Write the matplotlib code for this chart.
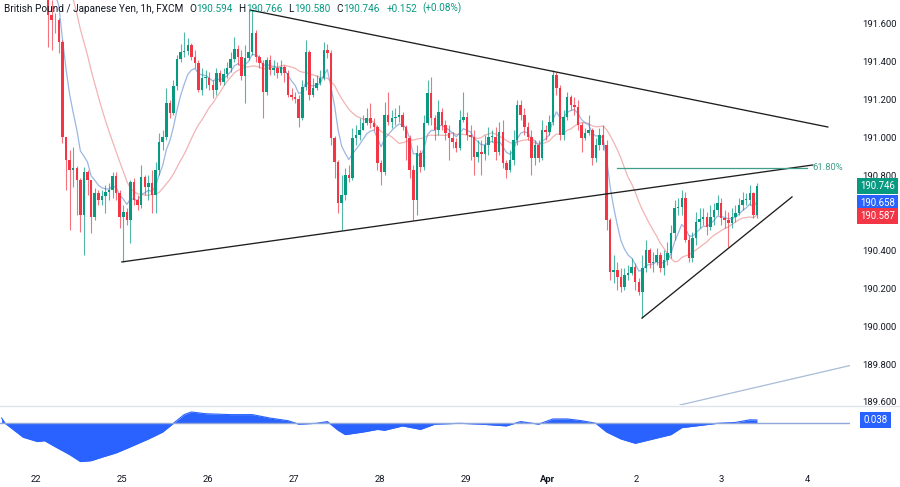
import numpy as np
import pandas as pd
import matplotlib
matplotlib.use("Agg")
import matplotlib.pyplot as plt
import matplotlib.transforms as mtransforms

plt.rcParams['font.family'] = ['Roboto', 'DejaVu Sans']

# ---------------- data ----------------
first_open = 192.32
close = [192.30, 192.25, 192.28, 192.20, 192.15, 192.18, 192.10, 192.05, 192.00, 191.95,
         191.90, 191.86, 191.80, 191.653, 191.626, 191.624, 191.510, 191.007, 190.886, 190.833,
         190.843, 190.780, 190.594, 190.822, 190.780, 190.584, 190.711, 190.674, 190.695, 190.716,
         190.727, 190.801, 190.711, 190.584, 190.610, 190.568, 190.769, 190.674, 190.647, 190.796,
         190.743, 190.764, 190.700, 190.833, 190.981, 191.007, 191.187, 191.134, 191.277, 191.420,
         191.457, 191.462, 191.494, 191.430, 191.399, 191.256, 191.319, 191.319, 191.282, 191.256,
         191.346, 191.298, 191.341, 191.372, 191.420, 191.473, 191.430, 191.330, 191.425, 191.457,
         191.557, 191.430, 191.399, 191.245, 191.415, 191.362, 191.372, 191.346, 191.378, 191.346,
         191.229, 191.219, 191.208, 191.108, 191.272, 191.457, 191.229, 191.266, 191.293, 191.319,
         191.467, 191.452, 191.002, 190.875, 190.658, 190.700, 190.806, 190.790, 191.002, 191.018,
         191.044, 191.081, 191.108, 191.081, 191.060, 190.870, 190.822, 191.124, 191.086, 191.108,
         191.113, 191.124, 191.060, 191.002, 190.833, 190.674, 190.923, 190.848, 191.081, 191.240,
         191.108, 191.044, 191.139, 191.071, 191.028, 191.002, 190.981, 190.949, 191.097, 191.113,
         191.018, 191.007, 190.901, 190.928, 190.917, 190.965, 191.007, 191.007, 190.928, 191.034,
         190.870, 190.833, 190.885, 190.991, 191.176, 191.124, 191.060, 191.007, 190.896, 190.965,
         190.896, 191.044, 191.034, 191.086, 191.335, 191.266, 191.018, 191.113, 191.219, 191.176,
         191.166, 191.071, 191.002, 191.028, 191.044, 190.896, 190.965, 191.018, 190.965, 190.568,
         190.293, 190.303, 190.266, 190.214, 190.277, 190.288, 190.319, 190.240, 190.187, 190.314,
         190.409, 190.340, 190.346, 190.383, 190.314, 190.356, 190.393, 190.499, 190.631, 190.637,
         190.684, 190.462, 190.367, 190.473, 190.557, 190.573, 190.584, 190.531, 190.584, 190.621,
         190.658, 190.579, 190.568, 190.552, 190.584, 190.605, 190.647, 190.674, 190.674, 190.711,
         190.594, 190.746]
high = [192.36, 192.33, 192.31, 192.30, 192.22, 192.21, 192.19, 192.12, 192.08, 192.03,
        191.98, 191.93, 191.89, 191.82, 191.732, 191.663, 191.637, 191.520, 191.007, 190.938,
        190.954, 190.854, 190.790, 190.848, 190.833, 190.780, 190.737, 190.727, 190.727, 190.753,
        190.764, 190.822, 190.822, 190.727, 190.647, 190.631, 190.780, 190.790, 190.700, 190.859,
        190.806, 190.806, 190.833, 190.875, 191.028, 191.044, 191.266, 191.203, 191.309, 191.441,
        191.499, 191.563, 191.531, 191.504, 191.467, 191.415, 191.372, 191.362, 191.351, 191.309,
        191.372, 191.362, 191.372, 191.404, 191.457, 191.536, 191.494, 191.467, 191.494, 191.679,
        191.679, 191.573, 191.441, 191.415, 191.430, 191.441, 191.415, 191.404, 191.415, 191.388,
        191.362, 191.266, 191.245, 191.229, 191.309, 191.520, 191.467, 191.319, 191.335, 191.362,
        191.510, 191.499, 191.467, 191.010, 190.885, 190.806, 190.843, 190.859, 191.055, 191.071,
        191.108, 191.124, 191.161, 191.187, 191.108, 191.071, 190.885, 191.192, 191.245, 191.150,
        191.161, 191.176, 191.139, 191.071, 191.018, 190.859, 190.965, 190.938, 191.124, 191.309,
        191.325, 191.124, 191.203, 191.161, 191.097, 191.071, 191.034, 191.002, 191.150, 191.245,
        191.139, 191.071, 191.044, 190.991, 190.991, 191.018, 191.060, 191.044, 191.060, 191.086,
        191.097, 190.885, 190.938, 191.044, 191.203, 191.203, 191.161, 191.086, 191.044, 190.991,
        190.991, 191.097, 191.071, 191.124, 191.362, 191.351, 191.282, 191.150, 191.245, 191.229,
        191.219, 191.203, 191.086, 191.055, 191.124, 191.055, 191.002, 191.055, 191.071, 190.991,
        190.579, 190.383, 190.346, 190.314, 190.314, 190.330, 190.367, 190.340, 190.261, 190.383,
        190.462, 190.420, 190.399, 190.420, 190.399, 190.409, 190.452, 190.542, 190.674, 190.684,
        190.727, 190.716, 190.489, 190.504, 190.610, 190.631, 190.631, 190.610, 190.647, 190.658,
        190.700, 190.684, 190.621, 190.610, 190.631, 190.647, 190.684, 190.716, 190.711, 190.753,
        190.716, 190.766]
low = [192.24, 192.20, 192.22, 192.16, 192.10, 192.12, 192.06, 192.00, 191.96, 191.91,
       191.86, 191.82, 191.77, 191.483, 191.467, 191.557, 191.452, 190.975, 190.727, 190.515,
       190.743, 190.594, 190.504, 190.383, 190.700, 190.499, 190.568, 190.647, 190.647, 190.605,
       190.674, 190.684, 190.674, 190.526, 190.346, 190.542, 190.446, 190.647, 190.621, 190.631,
       190.700, 190.674, 190.605, 190.605, 190.806, 190.938, 190.991, 191.108, 191.124, 191.256,
       191.404, 191.430, 191.441, 191.415, 191.372, 191.245, 191.229, 191.266, 191.256, 191.213,
       191.229, 191.282, 191.282, 191.319, 191.351, 191.404, 191.388, 191.309, 191.187, 191.415,
       191.441, 191.404, 191.372, 191.108, 191.229, 191.335, 191.335, 191.319, 191.335, 191.298,
       191.219, 191.203, 191.187, 191.060, 191.097, 191.256, 191.203, 191.219, 191.256, 191.282,
       191.309, 191.425, 190.965, 190.790, 190.605, 190.515, 190.674, 190.769, 190.780, 190.965,
       190.991, 191.044, 191.071, 191.055, 191.044, 190.833, 190.753, 190.806, 191.071, 191.055,
       191.071, 191.086, 191.044, 190.885, 190.790, 190.568, 190.594, 190.822, 190.833, 191.071,
       191.071, 190.991, 191.018, 191.044, 190.991, 190.885, 190.949, 190.928, 190.938, 191.086,
       190.991, 190.885, 190.806, 190.875, 190.806, 190.885, 190.912, 190.981, 190.885, 190.912,
       190.843, 190.790, 190.822, 190.859, 190.965, 191.097, 191.018, 190.991, 190.806, 190.859,
       190.875, 190.885, 190.991, 191.018, 191.071, 191.229, 190.991, 190.991, 191.097, 191.150,
       191.124, 191.044, 190.928, 190.991, 191.018, 190.859, 190.875, 190.938, 190.938, 190.515,
       190.251, 190.235, 190.198, 190.187, 190.198, 190.251, 190.277, 190.198, 190.171, 190.049,
       190.293, 190.314, 190.293, 190.330, 190.293, 190.277, 190.330, 190.367, 190.462, 190.594,
       190.594, 190.452, 190.346, 190.346, 190.436, 190.526, 190.542, 190.489, 190.515, 190.542,
       190.594, 190.542, 190.526, 190.425, 190.526, 190.557, 190.594, 190.621, 190.647, 190.647,
       190.579, 190.580]

osc_idx = [0, 1, 6, 10, 12, 15, 19, 22, 25, 28, 32, 36, 41, 45, 48, 51, 53, 57, 64, 70,
           75, 80, 83, 88, 91, 94, 96, 101, 105, 107, 112, 117, 121, 128, 134, 141, 145, 150,
           154, 158, 162, 166, 169, 173, 177, 182, 187, 190, 194, 200, 205, 209, 211]
osc_val = [0.06, 0.0, -0.16, -0.21, -0.20, -0.27, -0.36, -0.44, -0.43, -0.39, -0.34, -0.27,
           -0.18, -0.10, 0.0, 0.10, 0.13, 0.11, 0.10, 0.10, 0.06, 0.03, -0.01, 0.0, 0.02,
           -0.08, -0.13, -0.10, -0.07, -0.08, -0.03, -0.07, -0.01, 0.0, -0.01, -0.03, 0.02,
           -0.01, 0.05, 0.05, 0.03, 0.0, -0.10, -0.18, -0.23, -0.18, -0.13, -0.05, -0.03,
           0.0, 0.01, 0.04, 0.038]

day_labels = ['22', '25', '26', '27', '28', '29', 'Apr', '2', '3', '4']
day_pos = [9.6, 33.6, 57.7, 81.7, 105.7, 129.7, 152.6, 177.2, 201.0, 225.0]

price_ticks = [191.6, 191.4, 191.2, 191.0, 190.8, 190.4, 190.2, 190.0, 189.8, 189.6]

upper_line_x, upper_line_y = [69.4, 230.8], [191.679, 191.060]
lower_line_x, lower_line_y = [33.6, 226.6], [190.346, 190.859]
rising_line_x, rising_line_y = [178.9, 220.8], [190.049, 190.690]
fib_x, fib_y = [171.9, 225.0], [190.845, 190.845]
faint_line_x, faint_line_y = [189.5, 237.5], [189.589, 189.800]

title = "British Pound / Japanese Yen, 1h, FXCM"
last_ohlc = [190.594, 190.766, 190.580, 190.746]
change_abs, change_pct = 0.152, 0.08
ma_fast_last, ma_slow_last = 190.658, 190.587
osc_last = 0.038

# ---------------- styling ----------------
GREEN = '#089981'
RED = '#F23645'
BLUE = '#2962FF'
TXT = '#131722'

W, H = 900, 487
fig = plt.figure(figsize=(9, 4.87), dpi=100)
fig.patch.set_facecolor('white')

ax = fig.add_axes([0, 1 - 405 / H, 850 / W, 405 / H])
ax2 = fig.add_axes([0, 1 - 466 / H, 850 / W, 60 / H])
for a in (ax, ax2):
    a.set_facecolor('white')
    for s in a.spines.values():
        s.set_visible(False)
    a.set_xticks([])
    a.set_yticks([])

xlim = (-0.45, 237.0)
ax.set_xlim(*xlim)
ax.set_ylim(189.589, 191.732)
ax2.set_xlim(*xlim)
ax2.set_ylim(-0.491, 0.199)

# candles
c = np.array(close)
hh = np.array(high)
ll = np.array(low)
o = np.r_[first_open, c[:-1]]
hh = np.maximum(hh, np.maximum(o, c))
ll = np.minimum(ll, np.minimum(o, c))
idx = np.arange(len(c))
up = c >= o
cols = np.where(up, GREEN, RED)
ax.vlines(idx, ll, hh, colors=cols, lw=0.8, alpha=0.7, zorder=3)
ax.bar(idx, np.maximum(np.abs(c - o), 0.004), bottom=np.minimum(o, c), width=0.7,
       color=cols, lw=0, zorder=4)

# moving averages
s = pd.Series(c)
fast = s.ewm(span=7, adjust=False).mean()
slow = s.rolling(20, min_periods=1).mean()
ax.plot(idx, slow, color='#ee9a9a', lw=0.9, alpha=0.75, zorder=2)
ax.plot(idx, fast, color='#7a9fd8', lw=0.9, alpha=0.75, zorder=2)

# drawings
for xs, ys in [(upper_line_x, upper_line_y), (lower_line_x, lower_line_y),
               (rising_line_x, rising_line_y)]:
    ax.plot(xs, ys, color='#1e1e1e', lw=0.95, zorder=5)
ax.plot(fib_x, fib_y, color='#3f9e8a', lw=0.9, zorder=5)
ax.text(fib_x[1] + 1.6, fib_y[0], "61.80%", color='#3f9e8a', fontsize=6.8,
        va='center', ha='left', zorder=6)
ax.plot(faint_line_x, faint_line_y, color='#a8bcd8', lw=0.9, zorder=1)

# oscillator
ax2.fill_between(osc_idx, osc_val, 0, color=BLUE, lw=0, zorder=2)
ax2.plot(osc_idx, osc_val, color=BLUE, lw=0.8, zorder=2)
ax2.axhline(0, color='#8ea6d8', lw=1.0, zorder=3)

# pane separator
fig.add_artist(plt.Line2D([0, 1], [1 - 406 / H, 1 - 406 / H], color='#e0e3eb', lw=1,
                          transform=fig.transFigure))

# price scale labels
tr = mtransforms.blended_transform_factory(fig.transFigure, ax.transData)
for p in price_ticks:
    ax.text(862 / W, p, f"{p:.3f}", transform=tr, fontsize=6.8, color=TXT,
            va='center', ha='left', clip_on=False)
for val, fc in [(last_ohlc[3], GREEN), (ma_fast_last, BLUE), (ma_slow_last, RED)]:
    ax.text(877.5 / W, val, f"{val:.3f}", transform=tr, fontsize=6.9, color='white',
            va='center', ha='center', clip_on=False, zorder=10,
            bbox=dict(boxstyle='square,pad=0.32', fc=fc, ec='none'))
tr2 = mtransforms.blended_transform_factory(fig.transFigure, ax2.transData)
ax2.text(875.5 / W, osc_last, f"{osc_last:.3f}", transform=tr2, fontsize=6.9,
         color='white', va='center', ha='center', clip_on=False, zorder=10,
         bbox=dict(boxstyle='square,pad=0.32', fc=BLUE, ec='none'))

# date labels
trd = mtransforms.blended_transform_factory(ax2.transData, fig.transFigure)
for pos, lab in zip(day_pos, day_labels):
    ax2.text(pos, 1 - 479 / H, lab, transform=trd, fontsize=6.8, color=TXT,
             ha='center', va='center', clip_on=False,
             fontweight='bold' if lab == 'Apr' else 'normal')

# title + OHLC legend
t = fig.text(4 / W, 1 - 9 / H, title, fontsize=7.2, color=TXT, va='center', ha='left',
             zorder=20)
pieces = [("O", TXT, 4), (f"{last_ohlc[0]:.3f}", GREEN, 0.5),
          ("H", TXT, 4), (f"{last_ohlc[1]:.3f}", GREEN, 0.5),
          ("L", TXT, 4), (f"{last_ohlc[2]:.3f}", GREEN, 0.5),
          ("C", TXT, 4), (f"{last_ohlc[3]:.3f}", GREEN, 0.5),
          (f"+{change_abs:.3f}", GREEN, 4.5), (f"(+{change_pct:.2f}%)", GREEN, 4)]
prev = t
for txt, col, gap in pieces:
    prev = ax.annotate(txt, xy=(1, 0), xycoords=prev, xytext=(gap, 0),
                       textcoords='offset points', fontsize=7.2, color=col,
                       va='bottom', ha='left', annotation_clip=False, zorder=20)

fig.savefig('out.png', dpi=100, facecolor='white')
